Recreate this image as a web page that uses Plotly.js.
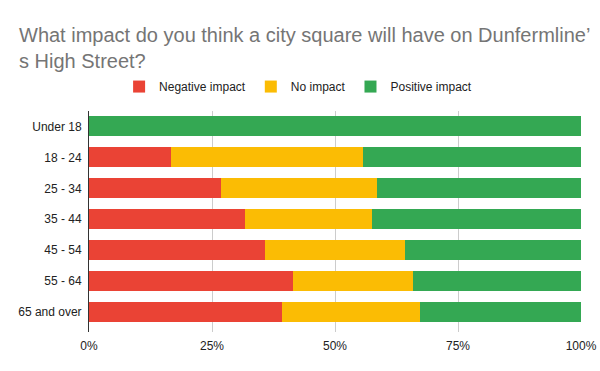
<!DOCTYPE html>
<html>
<head>
<meta charset="utf-8">
<script src="https://cdn.plot.ly/plotly-3.0.1.min.js"></script>
<style>html,body{margin:0;padding:0;background:#fff;}#chart{width:600px;height:371px;}</style>
</head>
<body>
<div id="chart"></div>
<script>
const categories = ["Under 18", "18 - 24", "25 - 34", "35 - 44", "45 - 54", "55 - 64", "65 and over"];
const negativeImpact = [0, 0.167, 0.269, 0.318, 0.358, 0.415, 0.393];
const noImpact = [0, 0.389, 0.317, 0.258, 0.285, 0.244, 0.280];
const positiveImpact = [1, 0.444, 0.414, 0.424, 0.357, 0.341, 0.327];
const seriesNames = ["Negative impact", "No impact", "Positive impact"];
const colors = ["#EA4335", "#FBBC04", "#34A853"];
const xTickVals = [0, 0.25, 0.5, 0.75, 1];
const xTickText = ["0%", "25%", "50%", "75%", "100%"];

const allSeries = [negativeImpact, noImpact, positiveImpact];
const traces = allSeries.map((vals, i) => ({
  type: "bar",
  orientation: "h",
  name: seriesNames[i],
  y: categories,
  x: vals,
  marker: { color: colors[i] },
  hoverinfo: "none"
}));

const layout = {
  width: 600,
  height: 371,
  paper_bgcolor: "#fff",
  plot_bgcolor: "#fff",
  margin: { l: 88.5, r: 19, t: 110.5, b: 39 },
  barmode: "stack",
  bargap: 0.355,
  font: { family: "Liberation Sans, Arial, sans-serif", color: "#222" },
  title: {
    text: "What impact do you think a city square will have on Dunfermline’<br>s High Street?",
    font: { family: "Liberation Sans, Arial, sans-serif", size: 20, color: "#757575" },
    x: 19 / 600, xref: "container", xanchor: "left",
    y: 1 - 42 / 371, yref: "container", yanchor: "top"
  },
  legend: {
    orientation: "h",
    x: 0.425, xanchor: "center",
    y: 1.1106, yanchor: "middle",
    font: { size: 12, color: "#222" },
    traceorder: "normal",
    itemwidth: 30
  },
  xaxis: {
    range: [0, 1],
    tickvals: xTickVals,
    ticktext: xTickText,
    showgrid: true,
    gridcolor: "#cccccc",
    zeroline: false,
    showline: false,
    ticks: "",
    ticklabelstandoff: 5,
    tickfont: { size: 12, color: "#222" },
    fixedrange: true
  },
  yaxis: {
    range: [6.645, -0.5],
    showline: true,
    linecolor: "#333",
    linewidth: 1,
    showgrid: false,
    ticks: "",
    ticklabelstandoff: 4,
    tickfont: { size: 12, color: "#222" },
    fixedrange: true
  }
};

Plotly.newPlot("chart", traces, layout, { displayModeBar: false, staticPlot: true });
</script>
</body>
</html>
